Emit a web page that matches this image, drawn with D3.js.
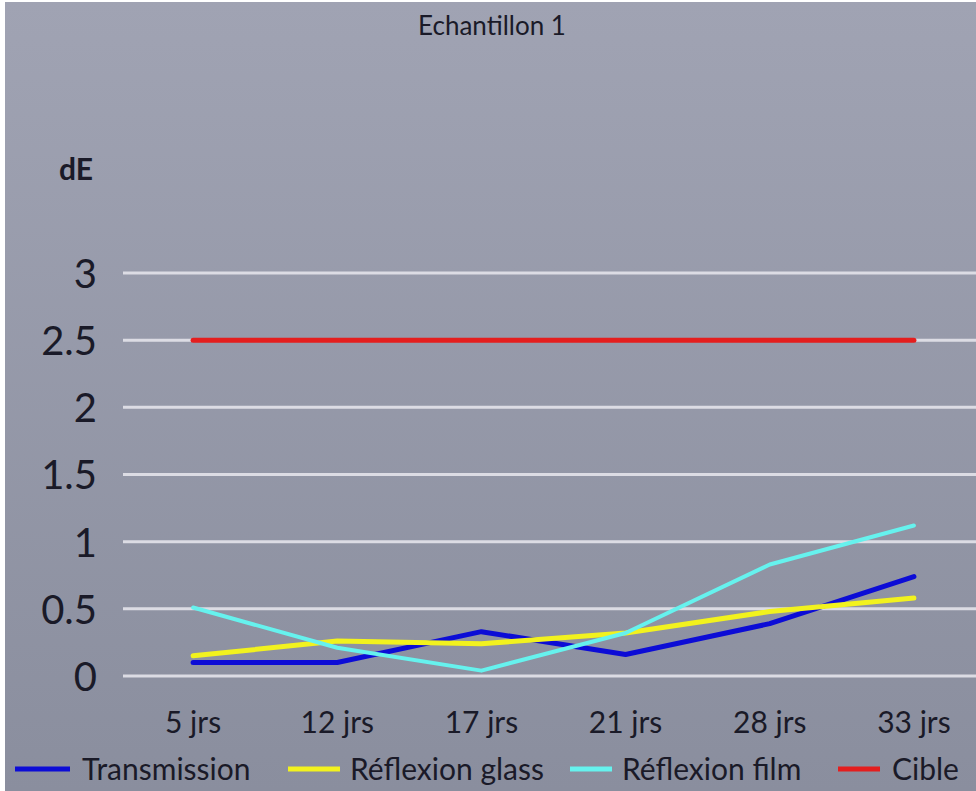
<!DOCTYPE html>
<html>
<head>
<meta charset="utf-8">
<script src="https://cdn.jsdelivr.net/npm/d3@7/dist/d3.min.js"></script>
<style>
  html, body { margin: 0; padding: 0; background: #ffffff; }
  svg { display: block; }
  text { font-family: Lato, "Open Sans", sans-serif; fill: #1a1a28; }
</style>
</head>
<body>
<script>
// Colour difference (dE) per exposure time, sample 1
const categories = ["5 jrs", "12 jrs", "17 jrs", "21 jrs", "28 jrs", "33 jrs"];
const transmission = [0.10, 0.10, 0.33, 0.16, 0.39, 0.74];
const reflexionGlass = [0.15, 0.26, 0.24, 0.32, 0.48, 0.58];
const reflexionFilm = [0.51, 0.21, 0.04, 0.32, 0.83, 1.12];
const cible = [2.5, 2.5, 2.5, 2.5, 2.5, 2.5];
const yTicks = [0, 0.5, 1, 1.5, 2, 2.5, 3];
const seriesNames = ["Transmission", "Réflexion glass", "Réflexion film", "Cible"];
const seriesColors = ["#0c0cd6", "#f2f21e", "#66f2ee", "#e41e1e"];

const W = 976, H = 791;
const svg = d3.select("body").append("svg").attr("width", W).attr("height", H);

const defs = svg.append("defs");
const grad = defs.append("linearGradient").attr("id", "bg").attr("x1", 0).attr("y1", 0).attr("x2", 0).attr("y2", 1);
grad.append("stop").attr("offset", "0%").attr("stop-color", "#a0a3b3");
grad.append("stop").attr("offset", "100%").attr("stop-color", "#8a8e9e");

// chart area background, with the thin light frame at top and left
svg.append("rect").attr("x", 5).attr("y", 2).attr("width", W - 5).attr("height", H - 2).attr("fill", "url(#bg)");

const x = d3.scaleBand().domain(categories).range([121, 986]);
const y = d3.scaleLinear().domain([0, 3]).range([676, 273]);
const cx = d => x(d) + x.bandwidth() / 2;

// horizontal gridlines
svg.append("g").selectAll("line").data(yTicks).join("line")
  .attr("x1", 123).attr("x2", W)
  .attr("y1", d => y(d)).attr("y2", d => y(d))
  .attr("stroke", "#dcdce4").attr("stroke-width", 3);

// y axis labels
const yAxis = d3.axisLeft(y).tickValues(yTicks).tickFormat(d3.format("")).tickSize(0).tickPadding(0);
const gy = svg.append("g").attr("transform", "translate(97,0)").call(yAxis);
gy.select(".domain").remove();
gy.selectAll("text").style("font-family", "Lato, sans-serif").style("font-size", "40px").attr("fill", "#1a1a28").attr("dy", "0.36em");

// x axis labels
const xAxis = d3.axisBottom(x).tickSize(0).tickPadding(0);
const gx = svg.append("g").attr("transform", "translate(0,722)").call(xAxis);
gx.select(".domain").remove();
gx.selectAll("text").style("font-family", "Lato, sans-serif").style("font-size", "30px").attr("fill", "#1a1a28").attr("dy", "0.36em");

// series lines
const line = d3.line().x((d, i) => cx(categories[i])).y(d => y(d));
const allSeries = [transmission, reflexionGlass, reflexionFilm, cible];
const widths = [5, 5, 4, 5];
const order = [0, 1, 2, 3];
svg.append("g").selectAll("path").data(order).join("path")
  .attr("d", i => line(allSeries[i]))
  .attr("fill", "none")
  .attr("stroke", i => seriesColors[i])
  .attr("stroke-width", i => widths[i])
  .attr("stroke-linejoin", "round")
  .attr("stroke-linecap", "round");

// title and axis caption
svg.append("text").attr("x", 492).attr("y", 35).attr("text-anchor", "middle")
  .style("font-size", "26px").text("Echantillon 1");
svg.append("text").attr("x", 76).attr("y", 180).attr("text-anchor", "middle")
  .style("font-size", "30px").style("font-weight", "bold").text("dE");

// legend
const legendItems = [
  { x1: 15, x2: 70, tx: 82 },
  { x1: 288, x2: 340, tx: 350 },
  { x1: 570, x2: 612, tx: 622 },
  { x1: 838, x2: 880, tx: 892 }
];
const lg = svg.append("g");
legendItems.forEach((it, i) => {
  lg.append("line").attr("x1", it.x1).attr("x2", it.x2).attr("y1", 769).attr("y2", 769)
    .attr("stroke", seriesColors[i]).attr("stroke-width", 5);
  lg.append("text").attr("x", it.tx).attr("y", 769).attr("dy", "0.36em")
    .style("font-size", "30px").text(seriesNames[i]);
});
</script>
</body>
</html>
